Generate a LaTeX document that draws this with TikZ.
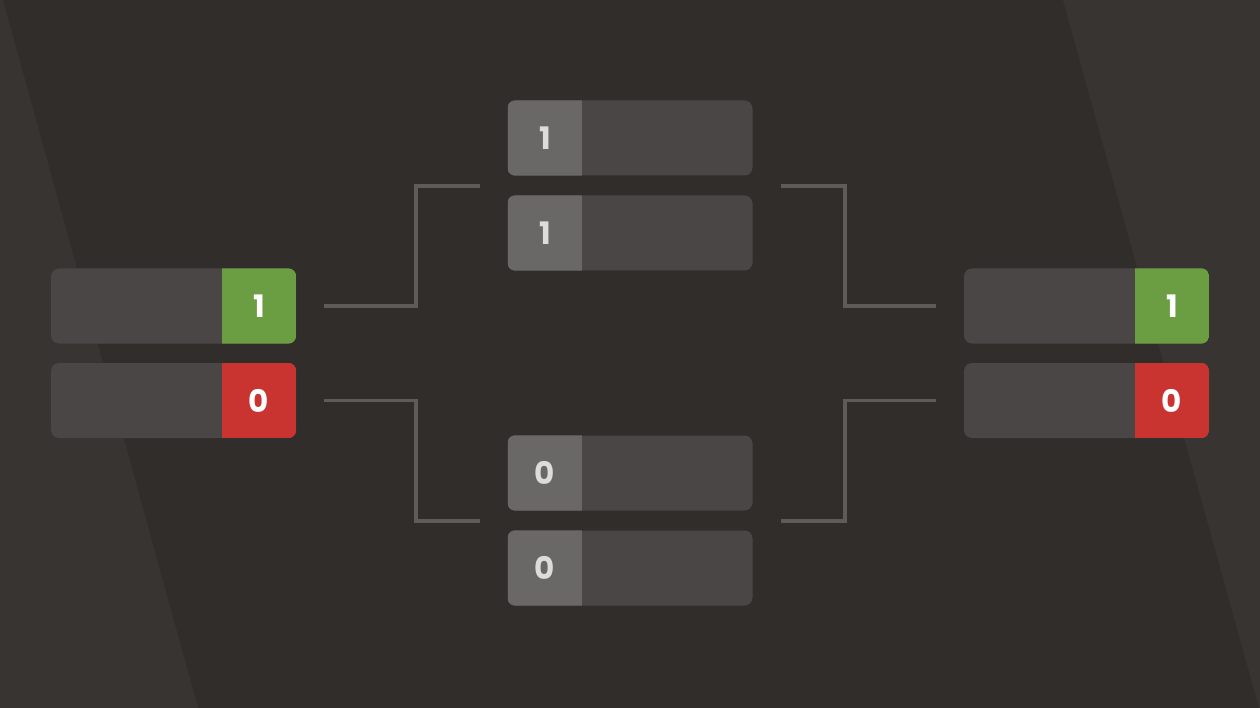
\documentclass[tikz,border=0pt]{standalone}
\usepackage{fontspec}
\usepackage{tikz}
\newfontfamily\scorefont{Poppins}
\definecolor{bgdark}{HTML}{312D2A}
\definecolor{bgstripe}{HTML}{383431}
\definecolor{slotgray}{HTML}{4A4645}
\definecolor{idlegray}{HTML}{6A6866}
\definecolor{wingreen}{HTML}{6B9E42}
\definecolor{lossred}{HTML}{C93431}
\definecolor{wiregray}{HTML}{5E5B58}
\definecolor{digitgray}{HTML}{DDDCDA}

\begin{document}
\begin{tikzpicture}[x=1pt,y=-1pt]
\tikzset{
  slot/.style={fill=slotgray, rounded corners=8pt, minimum width=245pt, minimum height=75pt, inner sep=0pt},
  score/.style={minimum width=74pt, minimum height=75pt, inner sep=0pt},
  digit/.style={font=\scorefont\bfseries\fontsize{31}{31}\selectfont},
  wire/.style={draw=wiregray, line width=3.2pt}
}
\useasboundingbox (0,0) rectangle (1260,708);
% background
\fill [bgdark] (0,0) rectangle (1260,708);
\fill [bgstripe] (0,0) -- (3,0) -- (198,708) -- (0,708) -- cycle;
\fill [bgstripe] (1063,0) -- (1260,0) -- (1260,708) -- (1259,708) -- cycle;
% left pair
\node [slot] (l1) at (173.5,306) {};
\node [slot] (l2) at (173.5,400.5) {};
\node [score] (l1s) at (259,306) {};
\node [score] (l2s) at (259,400.5) {};
\begin{scope}
\clip [rounded corners=8pt] (l1.north west) rectangle (l1.south east);
\fill [wingreen] (l1s.north west) rectangle (l1s.south east);
\end{scope}
\begin{scope}
\clip [rounded corners=8pt] (l2.north west) rectangle (l2.south east);
\fill [lossred] (l2s.north west) rectangle (l2s.south east);
\end{scope}
\node [digit, white] (l1d) at (l1s) {1};
\node [digit, white] (l2d) at (l2s) {0};
% middle column
\node [slot] (m1) at (630,138) {};
\node [slot] (m2) at (630,233) {};
\node [slot] (m3) at (630,473) {};
\node [slot] (m4) at (630,568) {};
\node [score] (m1s) at (545,138) {};
\node [score] (m2s) at (545,233) {};
\node [score] (m3s) at (545,473) {};
\node [score] (m4s) at (545,568) {};
\begin{scope}
\clip [rounded corners=8pt] (m1.north west) rectangle (m1.south east);
\fill [idlegray] (m1s.north west) rectangle (m1s.south east);
\end{scope}
\begin{scope}
\clip [rounded corners=8pt] (m2.north west) rectangle (m2.south east);
\fill [idlegray] (m2s.north west) rectangle (m2s.south east);
\end{scope}
\begin{scope}
\clip [rounded corners=8pt] (m3.north west) rectangle (m3.south east);
\fill [idlegray] (m3s.north west) rectangle (m3s.south east);
\end{scope}
\begin{scope}
\clip [rounded corners=8pt] (m4.north west) rectangle (m4.south east);
\fill [idlegray] (m4s.north west) rectangle (m4s.south east);
\end{scope}
\node [digit, digitgray] (m1d) at (m1s) {1};
\node [digit, digitgray] (m2d) at (m2s) {1};
\node [digit, digitgray] (m3d) at (m3s) {0};
\node [digit, digitgray] (m4d) at (m4s) {0};
% right pair
\node [slot] (r1) at (1086.5,306) {};
\node [slot] (r2) at (1086.5,400.5) {};
\node [score] (r1s) at (1172,306) {};
\node [score] (r2s) at (1172,400.5) {};
\begin{scope}
\clip [rounded corners=8pt] (r1.north west) rectangle (r1.south east);
\fill [wingreen] (r1s.north west) rectangle (r1s.south east);
\end{scope}
\begin{scope}
\clip [rounded corners=8pt] (r2.north west) rectangle (r2.south east);
\fill [lossred] (r2s.north west) rectangle (r2s.south east);
\end{scope}
\node [digit, white] (r1d) at (r1s) {1};
\node [digit, white] (r2d) at (r2s) {0};
% wire ends
\coordinate (lt) at ([xshift=28pt]l1.east);
\coordinate (lb) at ([xshift=28pt]l2.east);
\coordinate (mtl) at (480,186);
\coordinate (mbl) at (480,521);
\coordinate (mtr) at (781,186);
\coordinate (mbr) at (781,521);
\coordinate (rt) at ([xshift=-28pt]r1.west);
\coordinate (rb) at ([xshift=-28pt]r2.west);
% connectors
\draw [wire] (lt) -| ([xshift=-64pt]mtl) -- (mtl);
\draw [wire] (lb) -| ([xshift=-64pt]mbl) -- (mbl);
\draw [wire] (rt) -| ([xshift=64pt]mtr) -- (mtr);
\draw [wire] (rb) -| ([xshift=64pt]mbr) -- (mbr);
\end{tikzpicture}
\end{document}
